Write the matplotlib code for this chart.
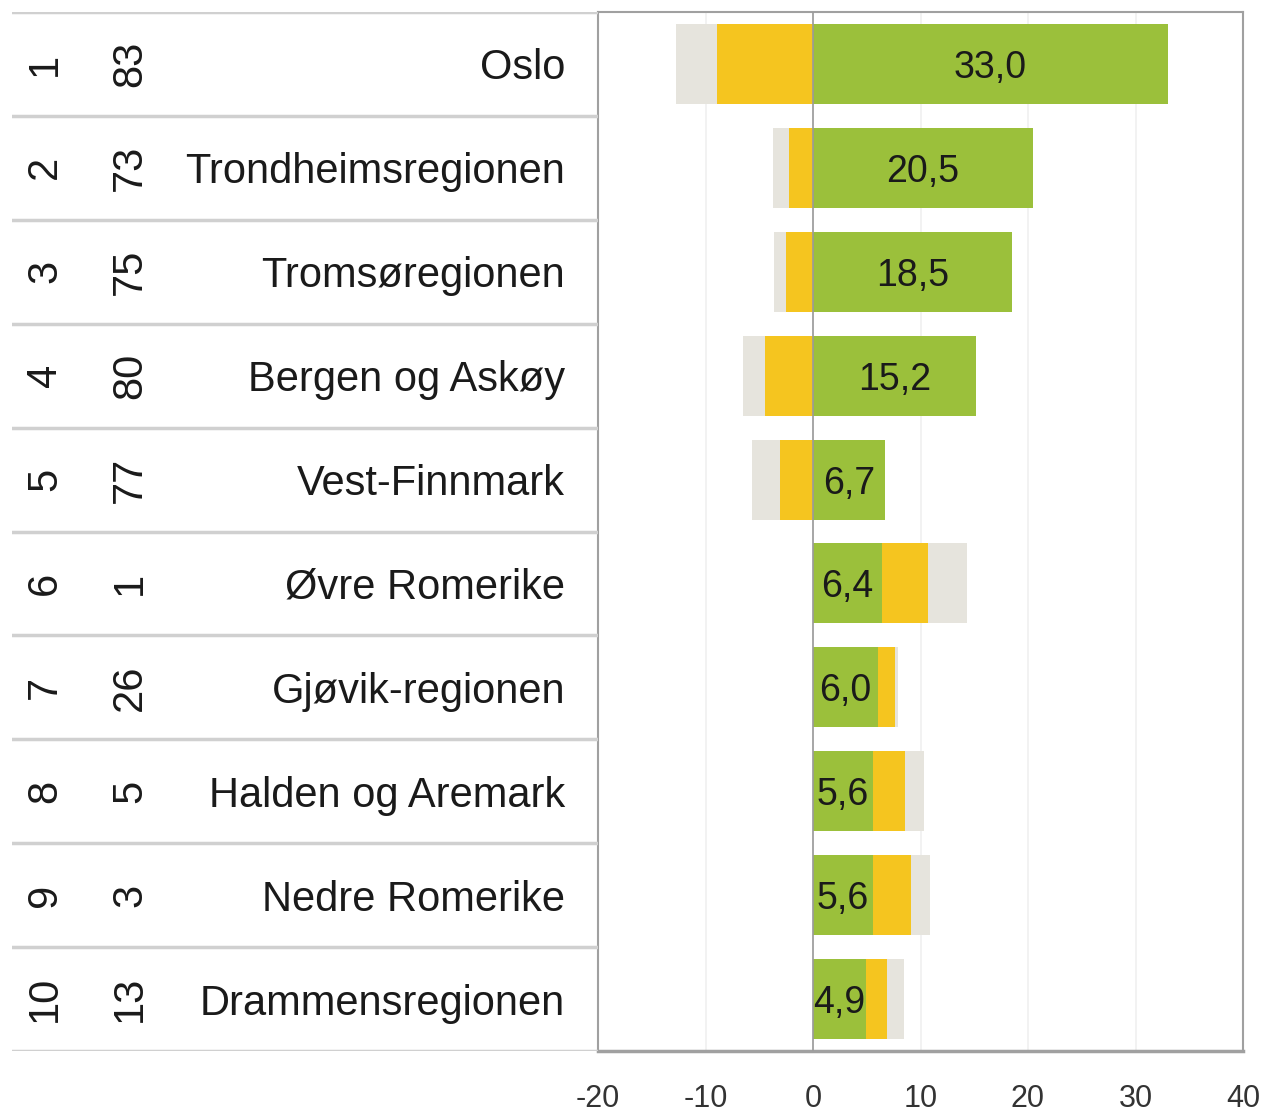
import matplotlib
matplotlib.use("Agg")
import matplotlib.pyplot as plt

plt.rcParams["font.family"] = ["Liberation Sans", "DejaVu Sans"]

# data
rangering = [1, 2, 3, 4, 5, 6, 7, 8, 9, 10]
forrige = [83, 73, 75, 80, 77, 1, 26, 5, 3, 13]
regioner = ["Oslo", "Trondheimsregionen", "Tromsøregionen", "Bergen og Askøy",
            "Vest-Finnmark", "Øvre Romerike", "Gjøvik-regionen", "Halden og Aremark",
            "Nedre Romerike", "Drammensregionen"]
gronn = [33.0, 20.5, 18.5, 15.2, 6.7, 6.4, 6.0, 5.6, 5.6, 4.9]
gul = [-8.9, -2.2, -2.5, -4.5, -3.1, 4.3, 1.6, 3.0, 3.5, 2.0]
gra = [-3.8, -1.5, -1.1, -2.0, -2.6, 3.6, 0.3, 1.7, 1.8, 1.6]

GRONN = "#9bc03b"
GUL = "#f5c51f"
GRA = "#e6e4dd"

W, H = 1266, 1114
fig = plt.figure(figsize=(W / 100, H / 100), dpi=100)

bunn = 1 - 1051 / H
topp = 1 - 12 / H
ax = fig.add_axes([598 / W, bunn, (1243 - 598) / W, topp - bunn])
axl = fig.add_axes([12 / W, bunn, (598 - 12) / W, topp - bunn], sharey=ax)

y = list(range(len(regioner)))
h = 0.77

ax.barh(y, gronn, height=h, color=GRONN, zorder=3)
gul_left = [0 if v < 0 else g for v, g in zip(gul, gronn)]
ax.barh(y, gul, left=gul_left, height=h, color=GUL, zorder=3)
gra_left = [gl + v for gl, v in zip(gul_left, gul)]
ax.barh(y, gra, left=gra_left, height=h, color=GRA, zorder=2)

for i, g in enumerate(gronn):
    ax.text(g / 2, i, f"{g:.1f}".replace(".", ","), ha="center", va="center_baseline",
            fontsize=27, color="#1a1a1a", zorder=4)

ax.axvline(0, color="#9a9a9a", lw=1.2, zorder=4)
ax.set_xlim(-20, 40)
ax.set_ylim(9.5, -0.5)
ax.set_xticks(range(-20, 41, 10))
ax.set_xticklabels([str(t) for t in range(-20, 41, 10)])
ax.tick_params(axis="x", length=0, pad=24, labelsize=22, labelcolor="#333333")
ax.tick_params(axis="y", left=False, labelleft=False)
ax.grid(axis="x", color="#f0f0f0", lw=1.2, zorder=0)
for s in ax.spines.values():
    s.set_color("#a0a0a0")
    s.set_linewidth(1.5)
ax.spines["bottom"].set_linewidth(2.5)

# table to the left
axl.set_xlim(12, 598)
axl.axis("off")
for b in [i - 0.5 for i in range(len(regioner) + 1)]:
    axl.axhline(b, color="#d0d0d0", lw=2.5, zorder=1)
for i in y:
    axl.text(45, i, str(rangering[i]), rotation=90, ha="center", va="center",
             fontsize=30, color="#1a1a1a")
    axl.text(130, i, str(forrige[i]), rotation=90, ha="center", va="center",
             fontsize=30, color="#1a1a1a")
    axl.text(565, i, regioner[i], ha="right", va="center_baseline",
             fontsize=30, color="#1a1a1a")

fig.savefig("out.png", dpi=100)
